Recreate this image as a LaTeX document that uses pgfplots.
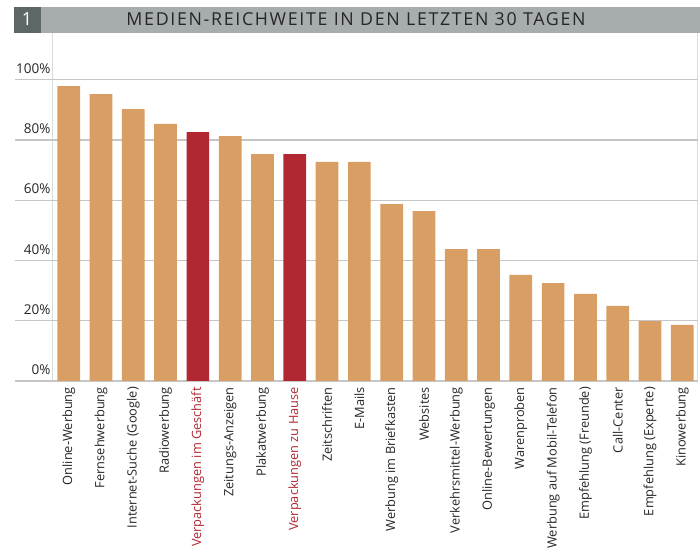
\documentclass[border=0pt]{standalone}
\usepackage{pgfplots}
\pgfplotsset{compat=1.18}
\usepackage{fontspec}
\setmainfont{Open Sans}
\definecolor{barorange}{HTML}{D99E63}
\definecolor{barred}{HTML}{B22832}
\definecolor{titlegray}{HTML}{A7ACAF}
\definecolor{boxgray}{HTML}{5E6767}
\definecolor{gridgray}{HTML}{C6C6C6}
\definecolor{vlinegray}{HTML}{D8DCDC}
\definecolor{textdark}{HTML}{262626}
\begin{document}
\begin{tikzpicture}
\path[use as bounding box] (0pt,0pt) rectangle (700pt,553pt);
\fill[titlegray] (40.7pt,519.7pt) rectangle (700pt,546.3pt);
\fill[boxgray] (14pt,519.7pt) rectangle (40.7pt,546.3pt);
\node[white,anchor=base,inner sep=0pt,font=\fontsize{18}{20}\selectfont] at (27pt,527pt) {1};
\node[textdark,anchor=base,inner sep=0pt,font=\fontsize{17.8}{20}\selectfont\addfontfeature{LetterSpace=9.4}] at (356pt,527pt) {MEDIEN-REICHWEITE IN DEN LETZTEN 30 TAGEN};
\draw[vlinegray, line width=1pt] (52.3pt,172pt) -- (52.3pt,519.7pt);
\draw[vlinegray, line width=1pt] (697.3pt,172pt) -- (697.3pt,519.7pt);
\begin{axis}[
  at={(15pt,172pt)}, anchor=south west,
  scale only axis, width=682.5pt, height=347.7pt,
  xmin=-1.6625, xmax=19.47, ymin=0, ymax=115.4,
  axis line style={draw=none},
  major tick length=0pt,
  ytick={0,20,40,60,80,100},
  yticklabels={0\%,20\%,40\%,60\%,80\%,100\%},
  ymajorgrids,
  grid style={gridgray, line width=1.4pt},
  yticklabel style={anchor=south east, inner sep=0pt, xshift=35.7pt, yshift=6pt, textdark, font=\fontsize{13.5}{15}\selectfont},
  xtick={0,...,19},
  xticklabels={Online-Werbung,Fernsehwerbung,Internet-Suche (Google),Radiowerbung,\textcolor{barred}{Verpackungen im Geschäft},Zeitungs-Anzeigen,Plakatwerbung,\textcolor{barred}{Verpackungen zu Hause},Zeitschriften,E-Mails,Werbung im Briefkasten,Websites,Verkehrsmittel-Werbung,Online-Bewertungen,Warenproben,Werbung auf Mobil-Telefon,Empfehlung (Freunde),Call-Center,Empfehlung (Experte),Kinowerbung},
  xticklabel style={rotate=90, anchor=east, inner sep=0pt, textdark, font=\fontsize{12.8}{14}\selectfont},
  xticklabel shift=6pt,
  clip=false,
]
\addplot[ybar, bar width=22.7pt, bar shift=0pt, fill=barorange, draw=none] coordinates {
(0,97.9) (1,95.2) (2,90.2) (3,85.3) (5,81.3) (6,75.3) (8,72.7) (9,72.7) (10,58.7) (11,56.4) (12,43.8) (13,43.8) (14,35.2) (15,32.5) (16,28.9) (17,24.9) (18,19.9) (19,18.6)};
\addplot[ybar, bar width=22.7pt, bar shift=0pt, fill=barred, draw=none] coordinates {
(4,82.6) (7,75.3)};
\end{axis}
\end{tikzpicture}
\end{document}
